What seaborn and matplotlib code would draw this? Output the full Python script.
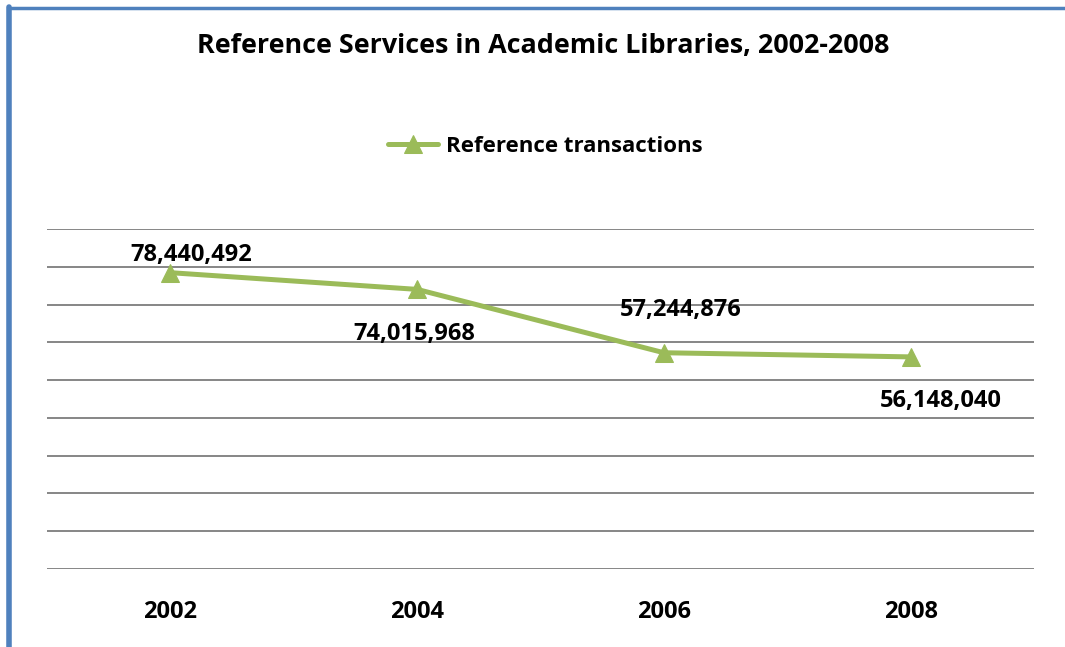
import matplotlib
matplotlib.use("Agg")
import matplotlib.pyplot as plt
import seaborn as sns
import pandas as pd
from matplotlib.lines import Line2D

years = ["2002", "2004", "2006", "2008"]
transactions = [78440492, 74015968, 57244876, 56148040]
series_name = "Reference transactions"
title = "Reference Services in Academic Libraries, 2002-2008"

# label offsets in pixels (layout, not data)
label_offsets = [(21, 18), (-3, -45), (17, 43), (30, -44)]

sns.set_style("white")
plt.rcParams["font.family"] = ["Open Sans", "DejaVu Sans"]
plt.rcParams["font.weight"] = "bold"
plt.rcParams["text.color"] = "black"
plt.rcParams["xtick.color"] = "black"

df = pd.DataFrame({"Year": years, "Value": transactions})

fig = plt.figure(figsize=(10.65, 6.47), dpi=100)
ax = fig.add_axes([47 / 1065, 1 - 569 / 647, (1034 - 47) / 1065, (569 - 229) / 647])

color = "#9BBB59"
sns.lineplot(data=df, x="Year", y="Value", ax=ax, color=color, linewidth=3.6,
             marker="^", markersize=13, markeredgecolor=color, label=series_name)

ax.set_xlim(-0.5, 3.5)
ax.set_ylim(0, 90_000_000)
ax.set_yticks(range(0, 90_000_001, 10_000_000))
ax.set_yticklabels([])
ax.yaxis.grid(True, color="#868686", linewidth=1.4)
ax.xaxis.grid(False)
for s in ax.spines.values():
    s.set_visible(False)
ax.tick_params(axis="both", length=0)
ax.tick_params(axis="x", pad=22, labelsize=17, labelcolor="black")
for t in ax.get_xticklabels():
    t.set_fontweight("bold")
ax.set_xlabel("")
ax.set_ylabel("")

for i, (v, off) in enumerate(zip(transactions, label_offsets)):
    ax.annotate(f"{v:,}", xy=(i, v), xytext=(off[0] * 0.72, off[1] * 0.72),
                textcoords="offset points", ha="center", va="center",
                fontsize=17, fontweight="bold", color="black")

leg = ax.legend(loc="center", bbox_to_anchor=(545 / 1065, 1 - 146 / 647),
                bbox_transform=fig.transFigure, frameon=False,
                prop={"size": 16, "weight": "bold"}, handlelength=2.25,
                handletextpad=0.36)

fig.text(543 / 1065, 1 - 46 / 647, title, ha="center", va="center",
         fontsize=19.4, fontweight="bold", color="black")

border = "#4F81BD"
fig.add_artist(Line2D([8.5 / 1065, 1], [1 - 8 / 647, 1 - 8 / 647],
                      transform=fig.transFigure, color=border, linewidth=2.5))
fig.add_artist(Line2D([8.5 / 1065, 8.5 / 1065], [0, 1 - 7 / 647],
                      transform=fig.transFigure, color=border, linewidth=4))

fig.savefig("out.png", dpi=100)
